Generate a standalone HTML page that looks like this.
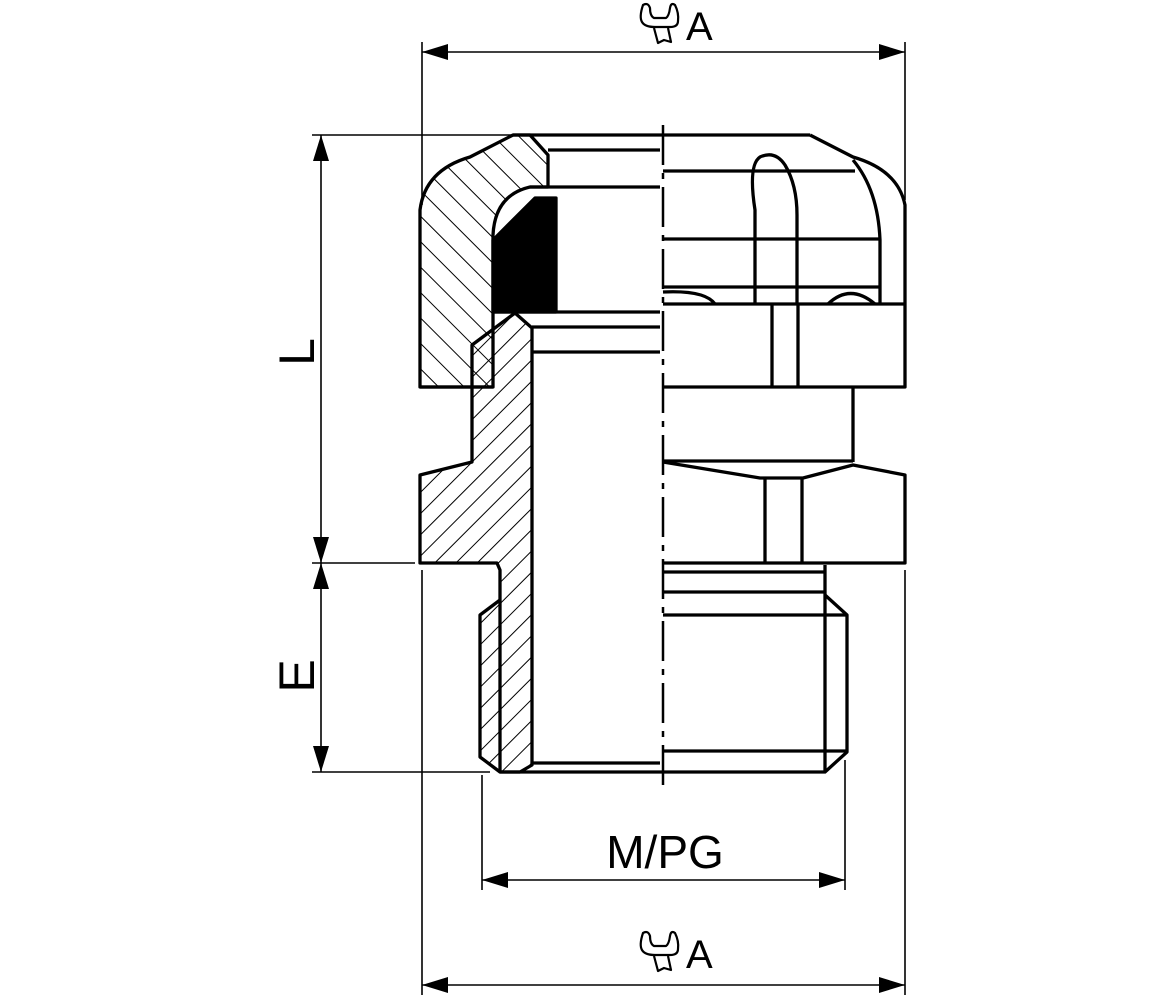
<!DOCTYPE html>
<html><head><meta charset="utf-8"><style>
html,body{margin:0;padding:0;background:#fff}
svg{display:block}
text{font-family:"Liberation Sans",sans-serif;fill:#000}
</style></head><body>
<svg width="1176" height="1000" viewBox="0 0 1176 1000" xmlns="http://www.w3.org/2000/svg">
<defs>
<pattern id="hb" patternUnits="userSpaceOnUse" width="15" height="15" patternTransform="rotate(45)">
<line x1="0" y1="0" x2="0" y2="15" stroke="#000" stroke-width="2"/></pattern>
<pattern id="hf" patternUnits="userSpaceOnUse" width="18" height="18" patternTransform="rotate(-45)">
<line x1="0" y1="0" x2="0" y2="18" stroke="#000" stroke-width="2"/></pattern>
<marker id="ar" markerWidth="26" markerHeight="16" refX="26" refY="8" orient="auto" markerUnits="userSpaceOnUse">
<path d="M0,0 L26,8 L0,16 Z" fill="#000"/></marker>
</defs>
<g fill="none" stroke="#000" stroke-width="3.3" stroke-linejoin="round">
<path d="M420,387 L420,210 Q425,170 470,157 L513,135 L530,135 L548,155 L548,187 L530,187 Q495,195 493,235 L493,387 Z" fill="url(#hf)"/>
<path d="M472,462 L472,345 L515,313 L532,328 L532,765 L520,772 L500,772 L480,757 L480,615 L500,600 L500,570 L497,563 L420,563 L420,475 Z" fill="url(#hb)"/>
<line x1="500" y1="600" x2="500" y2="772"/>
<path d="M493,240 L535,198 L556,198 L556,312 L493,312 Z" fill="#000"/>
<line x1="548" y1="150" x2="660" y2="150"/>
<line x1="530" y1="187" x2="660" y2="187"/>
<line x1="493" y1="312" x2="660" y2="312"/>
<line x1="532" y1="327" x2="660" y2="327"/>
<line x1="532" y1="352" x2="660" y2="352"/>
<line x1="532" y1="763" x2="660" y2="763"/>
<line x1="500" y1="772" x2="663" y2="772"/>
<line x1="513" y1="135" x2="810" y2="135"/>
<path d="M810,135 L853,157 Q898,170 905,205 L905,387 L663,387"/>
<line x1="420" y1="387" x2="493" y2="387"/>
<line x1="663" y1="171" x2="855" y2="171"/>
<path d="M853,160 Q878,190 880,240 L880,304"/>
<line x1="663" y1="239" x2="880" y2="239"/>
<line x1="663" y1="287" x2="880" y2="287"/>
<line x1="663" y1="304" x2="905" y2="304"/>
<path d="M755,304 L755,210 Q748,165 760,157 Q775,150 785,165 Q797,185 797,215 L797,304"/>
<path d="M663,292 Q705,290 715,304"/>
<path d="M828,304 Q850,283 875,304"/>
<line x1="772" y1="304" x2="772" y2="387"/>
<line x1="798" y1="304" x2="798" y2="387"/>
<line x1="853" y1="387" x2="853" y2="462"/>
<line x1="663" y1="461" x2="853" y2="461"/>
<path d="M663,462 L760,478 L803,478 L853,465 L905,475 L905,563 L663,563"/>
<line x1="765" y1="478" x2="765" y2="563"/>
<line x1="802" y1="478" x2="802" y2="563"/>
<line x1="663" y1="572" x2="825" y2="572"/>
<line x1="825" y1="565" x2="825" y2="772"/>
<line x1="663" y1="592" x2="825" y2="592"/>
<path d="M825,595 L847,615 L847,752 L825,772 L663,772"/>
<line x1="663" y1="615" x2="847" y2="615"/>
<line x1="663" y1="751" x2="847" y2="751"/>
<line x1="663" y1="125" x2="663" y2="785" stroke-width="2.5" stroke-dasharray="40,8,6,8"/>
</g>
<g stroke="#000" stroke-width="1.6" fill="none">
<line x1="422" y1="42" x2="422" y2="205"/>
<line x1="905" y1="42" x2="905" y2="200"/>
<line x1="663" y1="52" x2="422" y2="52" marker-end="url(#ar)"/>
<line x1="663" y1="52" x2="905" y2="52" marker-end="url(#ar)"/>
<line x1="312" y1="135" x2="513" y2="135"/>
<line x1="312" y1="563" x2="415" y2="563"/>
<line x1="312" y1="772" x2="490" y2="772"/>
<line x1="321" y1="350" x2="321" y2="135" marker-end="url(#ar)"/>
<line x1="321" y1="350" x2="321" y2="563" marker-end="url(#ar)"/>
<line x1="321" y1="670" x2="321" y2="563" marker-end="url(#ar)"/>
<line x1="321" y1="670" x2="321" y2="772" marker-end="url(#ar)"/>
<line x1="482" y1="775" x2="482" y2="890"/>
<line x1="845" y1="760" x2="845" y2="890"/>
<line x1="663" y1="880" x2="482" y2="880" marker-end="url(#ar)"/>
<line x1="663" y1="880" x2="845" y2="880" marker-end="url(#ar)"/>
<line x1="422" y1="570" x2="422" y2="995"/>
<line x1="905" y1="570" x2="905" y2="995"/>
<line x1="663" y1="985" x2="422" y2="985" marker-end="url(#ar)"/>
<line x1="663" y1="985" x2="905" y2="985" marker-end="url(#ar)"/>
</g>
<g id="w1" fill="none" stroke="#000" stroke-width="2.2" stroke-linejoin="round">
<path d="M643,5 Q639,17 642,22 Q645,27 655,27 L670,27 Q678,27 678,21 Q679,13 675,5 Q671,2 670,8 Q669,16 666,18 L654,18 Q650,16 650,8 Q648,2 643,5 Z"/>
<path d="M654,28 L658,43 L664,40 L671,42 L668,28"/>
</g>
<g fill="none" stroke="#000" stroke-width="2.2" stroke-linejoin="round" transform="translate(0,928)">
<path d="M643,5 Q639,17 642,22 Q645,27 655,27 L670,27 Q678,27 678,21 Q679,13 675,5 Q671,2 670,8 Q669,16 666,18 L654,18 Q650,16 650,8 Q648,2 643,5 Z"/>
<path d="M654,28 L658,43 L664,40 L671,42 L668,28"/>
</g>
<text x="686" y="40" font-size="40">A</text>
<text x="686" y="968" font-size="40">A</text>
<text x="665" y="868" font-size="46" text-anchor="middle">M/PG</text>
<text transform="translate(314,352) rotate(-90)" font-size="50" text-anchor="middle">L</text>
<text transform="translate(314,676) rotate(-90)" font-size="50" text-anchor="middle">E</text>
</svg>
</body></html>
